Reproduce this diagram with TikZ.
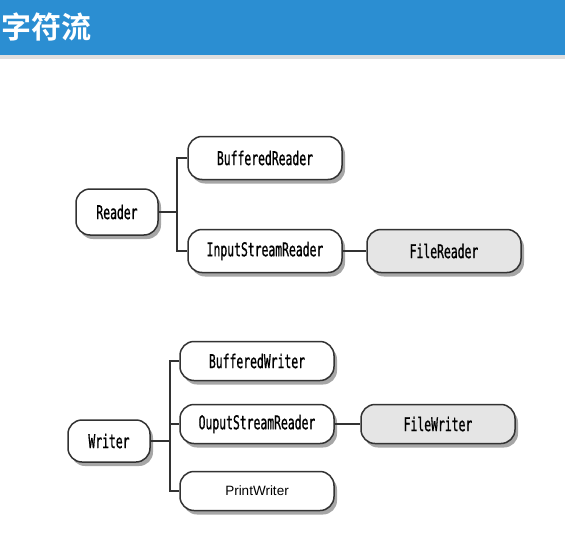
\documentclass[tikz,border=0pt]{standalone}
\usepackage{fontspec}
\usepackage{tikz}
\usetikzlibrary{shadows}
\newfontfamily\cjk{Noto Sans CJK SC}[BoldFont={Noto Sans CJK SC Bold}]
\newfontfamily\narrowmono{DejaVu Sans Mono}[FakeStretch=0.6, FakeBold=0.8]
\newfontfamily\plainsans{Liberation Sans}
\definecolor{barblue}{RGB}{43,142,210}
\definecolor{boxline}{RGB}{50,50,50}

\begin{document}
\begin{tikzpicture}[x=1pt, y=-1pt,
        classbox/.style={draw=boxline, line width=1.5pt, fill=white, rounded corners=14pt,
            minimum width=154pt, minimum height=43pt, inner sep=0pt,
            font=\narrowmono\fontsize{19}{19}\selectfont,
            drop shadow={shadow xshift=3pt, shadow yshift=-4pt, fill=gray!70, opacity=1}},
        rootbox/.style={classbox, minimum width=82pt, minimum height=46pt},
        filebox/.style={classbox, fill=gray!20},
        link/.style={draw=boxline, line width=1.5pt}]
        \useasboundingbox (0,0) rectangle (565,546);

        % Define the title bar
        \fill[gray!25] (0,55) rectangle (565,59);
        \fill[barblue] (0,0) rectangle (565,55);
        \node[anchor=west, inner sep=1pt, text=white, font=\cjk\bfseries\fontsize{30}{30}\selectfont] (title) at (0,27) {字符流};

        % Define the reader classes
        \node[rootbox] (reader) at (117,212) {Reader};
        \node[classbox] (bufreader) at (265,158) {BufferedReader};
        \node[classbox] (isreader) at (265,251) {InputStreamReader};
        \node[filebox] (filereader) at (444,251) {FileReader};
        \coordinate (rjoin) at (177,212);

        % Define the writer classes
        \node[rootbox, minimum height=42pt] (writer) at (109,441) {Writer};
        \node[classbox, minimum height=39pt] (bufwriter) at (257,361) {BufferedWriter};
        \node[classbox, minimum height=39pt] (oswriter) at (257,424) {OuputStreamReader};
        \node[filebox, minimum height=39pt] (filewriter) at (438,424) {FileWriter};
        \node[classbox, minimum height=39pt, font=\plainsans\fontsize{13.5}{14}\selectfont] (printwriter) at (257,491) {PrintWriter};
        \coordinate (wjoin) at (170,441);

        % Define the edges
        \draw[link] (reader.east) -- (rjoin);
        \draw[link] (bufreader.west) -| (rjoin) |- (isreader.west);
        \draw[link] (isreader.east) -- (filereader.west);

        \draw[link] (writer.east) -- (wjoin);
        \draw[link] (bufwriter.west) -| (wjoin) |- (printwriter.west);
        \draw[link] (wjoin) |- (oswriter.west);
        \draw[link] (oswriter.east) -- (filewriter.west);

    \end{tikzpicture}
\end{document}
